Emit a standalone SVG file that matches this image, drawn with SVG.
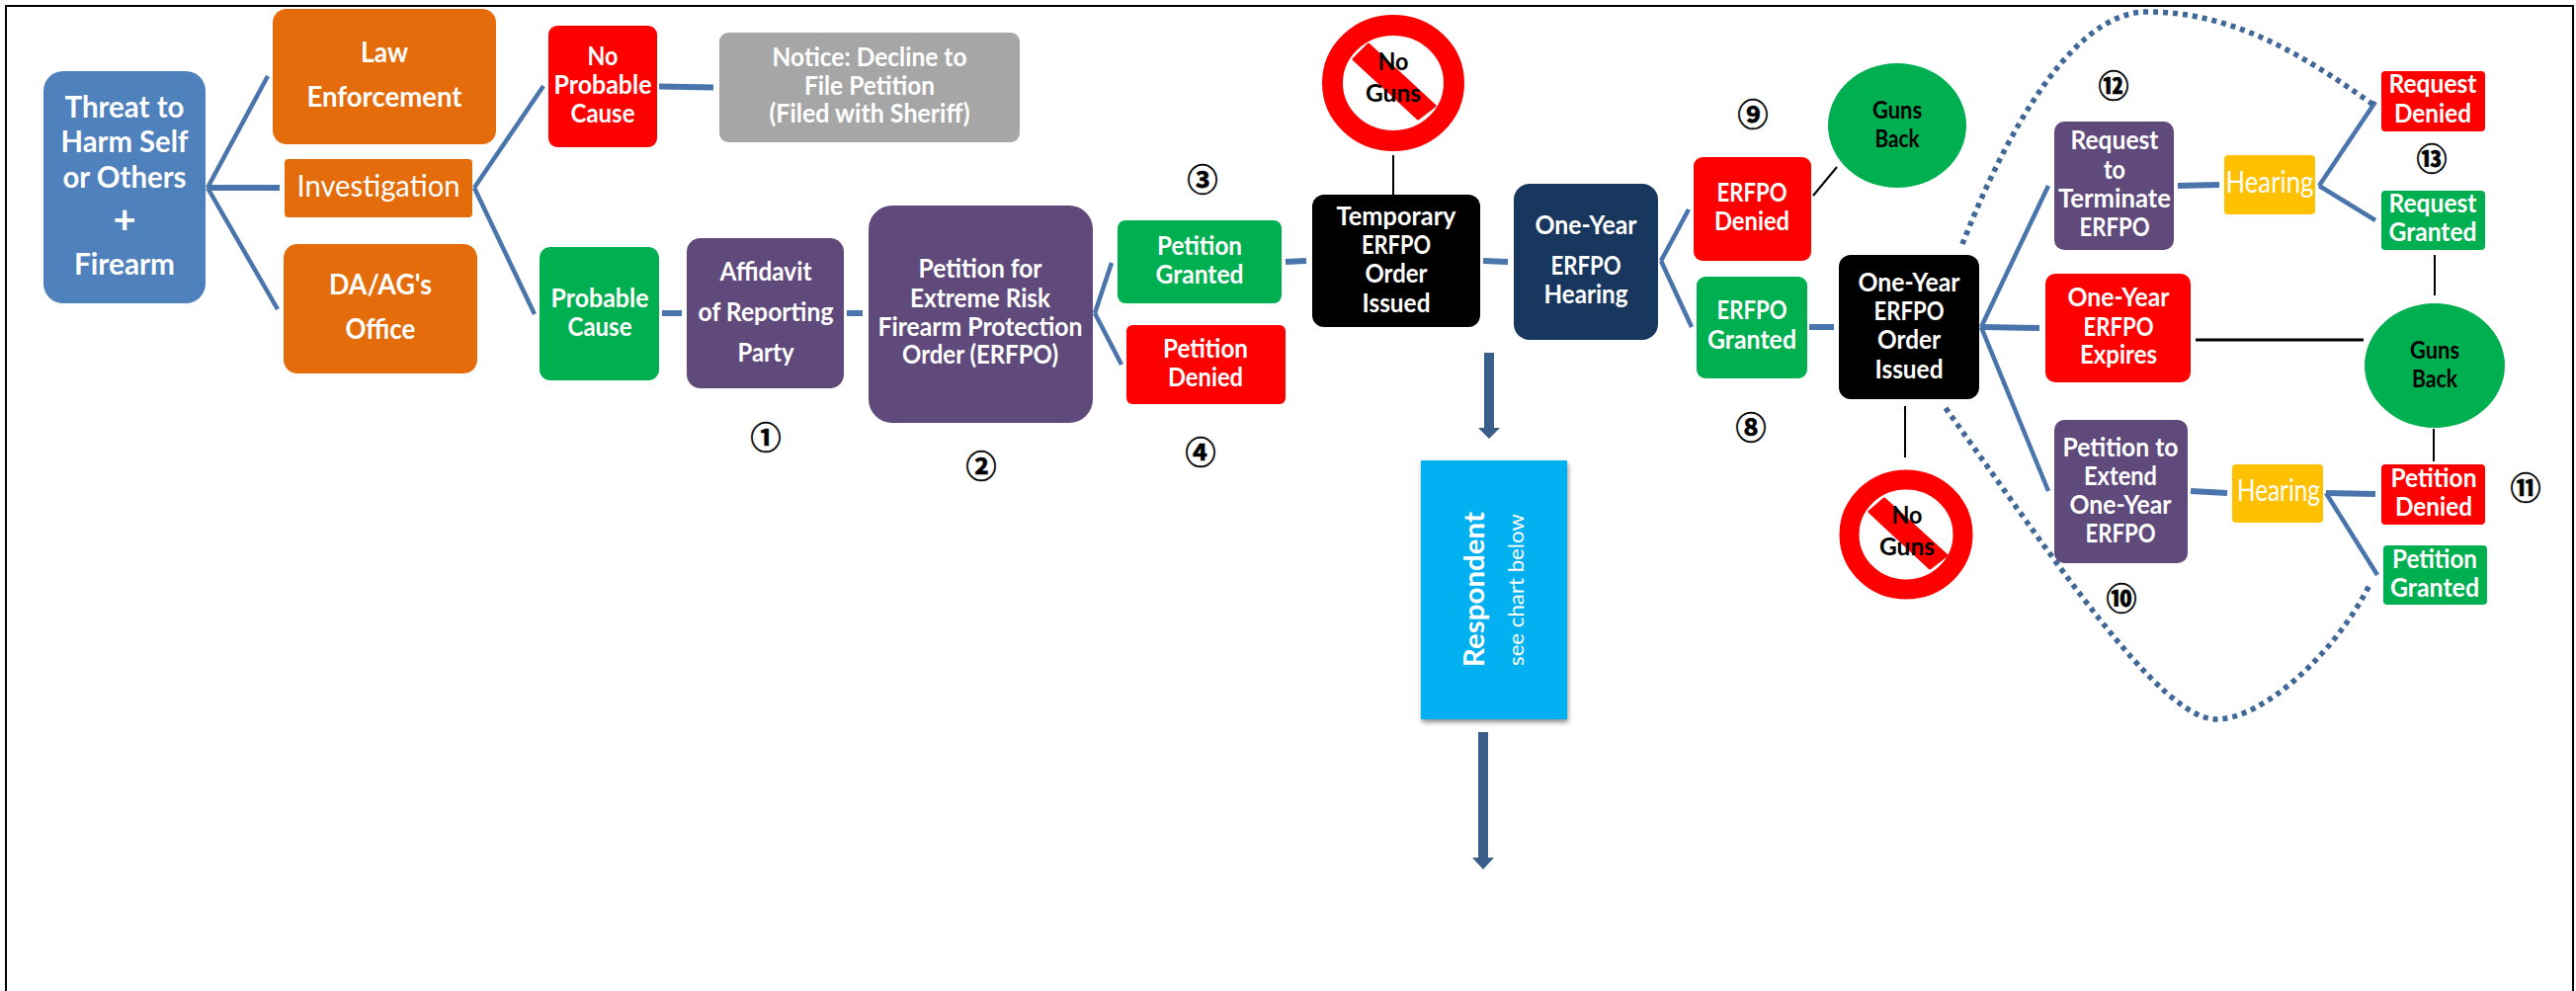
<svg xmlns="http://www.w3.org/2000/svg" width="2607" height="1003" viewBox="0 0 2607 1003">
<style>
text{font-family:Lato,"Open Sans","Liberation Sans",sans-serif;text-anchor:middle}
.w{fill:#fff;font-weight:700;font-size:27px}
.l{font-size:31px}
.m{font-size:28px}
.r{fill:#fff;font-weight:400;font-size:30px}
.k{fill:#000;font-weight:700;font-size:25px}
.n{fill:#000;stroke:#000;stroke-width:.6;font-family:"Noto Sans CJK JP",sans-serif;font-size:31px;font-weight:700}
.c line{stroke:#4A75AC;stroke-width:4.5;fill:none}
.c .t{stroke-width:6}
.c .b{stroke:#000;stroke-width:2}
.c path{fill:none;stroke:#3F6797;stroke-width:5.5;stroke-dasharray:5 5}
.c polygon{fill:#3A5F8B}
.bar{fill:#f00;stroke:#f00;stroke-width:3;stroke-linejoin:round}
.or{fill:#E46C0A}.re{fill:#FF0000}.gr{fill:#00B050}.pu{fill:#604A7B}.ye{fill:#FFC000}.bk{fill:#000}
</style>
<defs>
<filter id="sh" x="-10%" y="-10%" width="125%" height="125%"><feDropShadow dx="1" dy="3" stdDeviation="2.5" flood-color="#000" flood-opacity="0.45"/></filter>
</defs>
<rect width="2607" height="1003" fill="#fff"/>
<path d="M6 1003V6H2604V1003" fill="none" stroke="#000" stroke-width="2"/>
<g id="connectors" class="c">
<line x1="210" y1="190" x2="271" y2="77"/>
<line class="t" x1="210" y1="190" x2="283" y2="190"/>
<line x1="210" y1="190" x2="281" y2="313"/>
<line x1="480" y1="190" x2="550" y2="87"/>
<line x1="480" y1="190" x2="541" y2="318"/>
<line class="t" x1="667" y1="87.5" x2="722" y2="88.5"/>
<line class="t" x1="670" y1="317" x2="690" y2="317"/>
<line class="t" x1="857" y1="317" x2="873" y2="317"/>
<line x1="1108" y1="317" x2="1125" y2="266"/>
<line x1="1108" y1="317" x2="1135" y2="369"/>
<line class="t" x1="1301" y1="265" x2="1322" y2="264"/>
<line class="t" x1="1501" y1="264" x2="1526" y2="265"/>
<line x1="1681" y1="264" x2="1709" y2="212"/>
<line x1="1681" y1="264" x2="1712" y2="331"/>
<line class="t" x1="1831" y1="331" x2="1856" y2="331"/>
<line x1="2005" y1="331" x2="2073" y2="188"/>
<line class="t" x1="2006" y1="331" x2="2064" y2="332"/>
<line x1="2005" y1="331" x2="2073" y2="497"/>
<line class="t" x1="2204" y1="188" x2="2246" y2="187"/>
<line x1="2347" y1="188" x2="2404" y2="103"/>
<line x1="2347" y1="188" x2="2404" y2="223"/>
<line class="t" x1="2217" y1="497" x2="2254" y2="499"/>
<line class="t" x1="2354" y1="499" x2="2404" y2="500"/>
<line x1="2354" y1="499" x2="2406" y2="582"/>
<line class="b" x1="1410" y1="157" x2="1410" y2="197"/>
<line class="b" x1="1859" y1="169" x2="1835" y2="198"/>
<line class="b" x1="1928" y1="411" x2="1928" y2="463"/>
<line class="b" x1="2464" y1="258" x2="2464" y2="299"/>
<line class="b" x1="2463" y1="434" x2="2463" y2="467"/>
<line class="b" x1="2222" y1="344" x2="2392" y2="344" style="stroke-width:3"/>
<path d="M1986 247C2020 160 2090 12 2173 12C2260 12 2330 55 2402 106"/>
<path d="M1969 413C2075 560 2185 728 2243 728C2290 728 2365 660 2399 590"/>
<polygon points="1502,357 1512,357 1512,433 1518,433 1507,444 1496,433 1502,433"/>
<polygon points="1496,741 1506,741 1506,868 1512,868 1501,880 1490,868 1496,868"/>
</g>
<g id="threat"><rect x="44" y="72" width="164" height="235" rx="20" fill="#4F81BD"/>
<text class="w l" x="126" y="119" textLength="121" lengthAdjust="spacingAndGlyphs">Threat to</text>
<text class="w l" x="126" y="154" textLength="129" lengthAdjust="spacingAndGlyphs">Harm Self</text>
<text class="w l" x="126" y="190" textLength="125" lengthAdjust="spacingAndGlyphs">or Others</text>
<text class="w l" x="126" y="236" style="font-size:40px">+</text>
<text class="w l" x="126" y="278" textLength="102" lengthAdjust="spacingAndGlyphs">Firearm</text></g>
<g id="law"><rect class="or" x="276" y="9" width="226" height="137" rx="14"/>
<text class="w m" x="389" y="63" textLength="48" lengthAdjust="spacingAndGlyphs">Law</text>
<text class="w m" x="389" y="108" textLength="157" lengthAdjust="spacingAndGlyphs">Enforcement</text></g>
<g id="investigation"><rect class="or" x="288" y="161" width="190" height="59" rx="4"/>
<text class="r" x="383" y="199" textLength="165" lengthAdjust="spacingAndGlyphs">Investigation</text></g>
<g id="da"><rect class="or" x="287" y="247" width="196" height="131" rx="14"/>
<text class="w m" x="385" y="298" textLength="104" lengthAdjust="spacingAndGlyphs">DA/AG's</text>
<text class="w m" x="385" y="343" textLength="71" lengthAdjust="spacingAndGlyphs">Office</text></g>
<g id="no-cause"><rect class="re" x="555" y="26" width="110" height="123" rx="9"/>
<text class="w" x="610" y="66" textLength="31" lengthAdjust="spacingAndGlyphs">No</text>
<text class="w" x="610" y="95" textLength="99" lengthAdjust="spacingAndGlyphs">Probable</text>
<text class="w" x="610" y="124" textLength="65" lengthAdjust="spacingAndGlyphs">Cause</text></g>
<g id="notice"><rect x="728" y="33" width="304" height="111" rx="9" fill="#A6A6A6"/>
<text class="w" x="880" y="67" textLength="197" lengthAdjust="spacingAndGlyphs">Notice: Decline to</text>
<text class="w" x="880" y="96" textLength="132" lengthAdjust="spacingAndGlyphs">File Petition</text>
<text class="w" x="880" y="124" textLength="203" lengthAdjust="spacingAndGlyphs">(Filed with Sheriff)</text></g>
<g id="cause"><rect class="gr" x="546" y="250" width="121" height="135" rx="11"/>
<text class="w" x="607" y="311" textLength="99" lengthAdjust="spacingAndGlyphs">Probable</text>
<text class="w" x="607" y="340" textLength="65" lengthAdjust="spacingAndGlyphs">Cause</text></g>
<g id="affidavit"><rect class="pu" x="695" y="241" width="159" height="152" rx="14"/>
<text class="w" x="775" y="284" textLength="93" lengthAdjust="spacingAndGlyphs">Affidavit</text>
<text class="w" x="775" y="325" textLength="137" lengthAdjust="spacingAndGlyphs">of Reporting</text>
<text class="w" x="775" y="366" textLength="57" lengthAdjust="spacingAndGlyphs">Party</text></g>
<g id="petition"><rect class="pu" x="879" y="208" width="227" height="220" rx="24"/>
<text class="w" x="992" y="281" textLength="125" lengthAdjust="spacingAndGlyphs">Petition for</text>
<text class="w" x="992" y="311" textLength="142" lengthAdjust="spacingAndGlyphs">Extreme Risk</text>
<text class="w" x="992" y="340" textLength="207" lengthAdjust="spacingAndGlyphs">Firearm Protection</text>
<text class="w" x="992" y="368" textLength="158" lengthAdjust="spacingAndGlyphs">Order (ERFPO)</text></g>
<g id="granted"><rect class="gr" x="1131" y="223" width="166" height="84" rx="8"/>
<text class="w" x="1214" y="258" textLength="86" lengthAdjust="spacingAndGlyphs">Petition</text>
<text class="w" x="1214" y="287" textLength="89" lengthAdjust="spacingAndGlyphs">Granted</text></g>
<g id="denied"><rect class="re" x="1140" y="329" width="161" height="80" rx="6"/>
<text class="w" x="1220" y="362" textLength="86" lengthAdjust="spacingAndGlyphs">Petition</text>
<text class="w" x="1220" y="391" textLength="76" lengthAdjust="spacingAndGlyphs">Denied</text></g>
<g id="nogun1"><ellipse cx="1410" cy="84" rx="61.5" ry="58.5" fill="#fff" stroke="#f00" stroke-width="21"/>
<polygon class="bar" points="1385,45 1452,107 1435,120 1370,60"/>
<text class="k" x="1410" y="71" textLength="31" lengthAdjust="spacingAndGlyphs">No</text>
<text class="k" x="1410" y="103" textLength="56" lengthAdjust="spacingAndGlyphs">Guns</text></g>
<g id="temp"><rect class="bk" x="1328" y="197" width="170" height="134" rx="12"/>
<text class="w" x="1413" y="228" textLength="121" lengthAdjust="spacingAndGlyphs">Temporary</text>
<text class="w" x="1413" y="257" textLength="70" lengthAdjust="spacingAndGlyphs">ERFPO</text>
<text class="w" x="1413" y="286" textLength="63" lengthAdjust="spacingAndGlyphs">Order</text>
<text class="w" x="1413" y="316" textLength="69" lengthAdjust="spacingAndGlyphs">Issued</text></g>
<g id="hearing"><rect x="1532" y="186" width="146" height="158" rx="16" fill="#17375E"/>
<text class="w" x="1605" y="237" textLength="103" lengthAdjust="spacingAndGlyphs">One-Year</text>
<text class="w" x="1605" y="278" textLength="71" lengthAdjust="spacingAndGlyphs">ERFPO</text>
<text class="w" x="1605" y="307" textLength="85" lengthAdjust="spacingAndGlyphs">Hearing</text></g>
<g id="respondent"><rect x="1438" y="466" width="148" height="262" fill="#00B0F0" filter="url(#sh)"/>
<text transform="translate(1502 596.5) rotate(-90)" style="fill:#fff;font-weight:700;font-size:29px" textLength="157" lengthAdjust="spacingAndGlyphs">Respondent</text>
<text transform="translate(1542 597) rotate(-90)" style="fill:#fff;font-size:22px" textLength="154" lengthAdjust="spacingAndGlyphs">see chart below</text></g>
<g id="efdenied"><rect class="re" x="1714" y="159" width="119" height="105" rx="9"/>
<text class="w" x="1773" y="204" textLength="71" lengthAdjust="spacingAndGlyphs">ERFPO</text>
<text class="w" x="1773" y="233" textLength="76" lengthAdjust="spacingAndGlyphs">Denied</text></g>
<g id="efgranted"><rect class="gr" x="1717" y="280" width="112" height="103" rx="9"/>
<text class="w" x="1773" y="323" textLength="71" lengthAdjust="spacingAndGlyphs">ERFPO</text>
<text class="w" x="1773" y="353" textLength="90" lengthAdjust="spacingAndGlyphs">Granted</text></g>
<g id="back1"><ellipse class="gr" cx="1920" cy="127" rx="70" ry="63"/>
<text class="k" x="1920" y="120" textLength="50" lengthAdjust="spacingAndGlyphs">Guns</text>
<text class="k" x="1920" y="149" textLength="45" lengthAdjust="spacingAndGlyphs">Back</text></g>
<g id="order"><rect class="bk" x="1861" y="258" width="142" height="146" rx="12"/>
<text class="w" x="1932" y="295" textLength="103" lengthAdjust="spacingAndGlyphs">One-Year</text>
<text class="w" x="1932" y="324" textLength="71" lengthAdjust="spacingAndGlyphs">ERFPO</text>
<text class="w" x="1932" y="353" textLength="64" lengthAdjust="spacingAndGlyphs">Order</text>
<text class="w" x="1932" y="383" textLength="69" lengthAdjust="spacingAndGlyphs">Issued</text></g>
<g id="nogun2"><ellipse cx="1929" cy="541" rx="57.5" ry="55.5" fill="#fff" stroke="#f00" stroke-width="20"/>
<polygon class="bar" points="1907,505 1970,562 1953,575 1892,518"/>
<text class="k" x="1930" y="530" textLength="31" lengthAdjust="spacingAndGlyphs">No</text>
<text class="k" x="1930" y="562" textLength="56" lengthAdjust="spacingAndGlyphs">Guns</text></g>
<g id="terminate"><rect class="pu" x="2079" y="123" width="121" height="130" rx="10"/>
<text class="w" x="2140" y="151" textLength="89" lengthAdjust="spacingAndGlyphs">Request</text>
<text class="w" x="2140" y="181" textLength="22" lengthAdjust="spacingAndGlyphs">to</text>
<text class="w" x="2140" y="210" textLength="114" lengthAdjust="spacingAndGlyphs">Terminate</text>
<text class="w" x="2140" y="239" textLength="71" lengthAdjust="spacingAndGlyphs">ERFPO</text></g>
<g id="hearing1"><rect class="ye" x="2251" y="157" width="92" height="60" rx="4"/>
<text class="r" x="2297" y="195" textLength="89" lengthAdjust="spacingAndGlyphs">Hearing</text></g>
<g id="reqdenied"><rect class="re" x="2410" y="72" width="105" height="61" rx="4"/>
<text class="w" x="2462" y="94" textLength="89" lengthAdjust="spacingAndGlyphs">Request</text>
<text class="w" x="2462" y="124" textLength="78" lengthAdjust="spacingAndGlyphs">Denied</text></g>
<g id="reqgranted"><rect class="gr" x="2410" y="193" width="105" height="60" rx="4"/>
<text class="w" x="2462" y="215" textLength="89" lengthAdjust="spacingAndGlyphs">Request</text>
<text class="w" x="2462" y="244" textLength="89" lengthAdjust="spacingAndGlyphs">Granted</text></g>
<g id="expires"><rect class="re" x="2070" y="277" width="147" height="110" rx="10"/>
<text class="w" x="2144" y="310" textLength="103" lengthAdjust="spacingAndGlyphs">One-Year</text>
<text class="w" x="2144" y="340" textLength="71" lengthAdjust="spacingAndGlyphs">ERFPO</text>
<text class="w" x="2144" y="368" textLength="78" lengthAdjust="spacingAndGlyphs">Expires</text></g>
<g id="back2"><ellipse class="gr" cx="2464" cy="370" rx="71" ry="63"/>
<text class="k" x="2464" y="363" textLength="50" lengthAdjust="spacingAndGlyphs">Guns</text>
<text class="k" x="2464" y="392" textLength="46" lengthAdjust="spacingAndGlyphs">Back</text></g>
<g id="extend"><rect class="pu" x="2079" y="425" width="135" height="145" rx="10"/>
<text class="w" x="2146" y="462" textLength="117" lengthAdjust="spacingAndGlyphs">Petition to</text>
<text class="w" x="2146" y="491" textLength="74" lengthAdjust="spacingAndGlyphs">Extend</text>
<text class="w" x="2146" y="520" textLength="103" lengthAdjust="spacingAndGlyphs">One-Year</text>
<text class="w" x="2146" y="549" textLength="71" lengthAdjust="spacingAndGlyphs">ERFPO</text></g>
<g id="hearing2"><rect class="ye" x="2259" y="470" width="92" height="59" rx="4"/>
<text class="r" x="2306" y="507" textLength="84" lengthAdjust="spacingAndGlyphs">Hearing</text></g>
<g id="petdenied"><rect class="re" x="2410" y="470" width="105" height="61" rx="4"/>
<text class="w" x="2463" y="493" textLength="87" lengthAdjust="spacingAndGlyphs">Petition</text>
<text class="w" x="2463" y="522" textLength="78" lengthAdjust="spacingAndGlyphs">Denied</text></g>
<g id="petgranted"><rect class="gr" x="2412" y="552" width="105" height="60" rx="4"/>
<text class="w" x="2464" y="575" textLength="86" lengthAdjust="spacingAndGlyphs">Petition</text>
<text class="w" x="2464" y="604" textLength="90" lengthAdjust="spacingAndGlyphs">Granted</text></g>
<g id="numbers">
<text class="n" x="775" y="454">①</text>
<text class="n" x="993" y="483">②</text>
<text class="n" x="1217" y="193">③</text>
<text class="n" x="1215" y="469">④</text>
<text class="n" x="1772" y="444">⑧</text>
<text class="n" x="1774" y="127">⑨</text>
<text class="n" x="2147" y="617">⑩</text>
<text class="n" x="2556" y="505">⑪</text>
<text class="n" x="2139" y="98">⑫</text>
<text class="n" x="2461" y="172">⑬</text>
</g>
</svg>
